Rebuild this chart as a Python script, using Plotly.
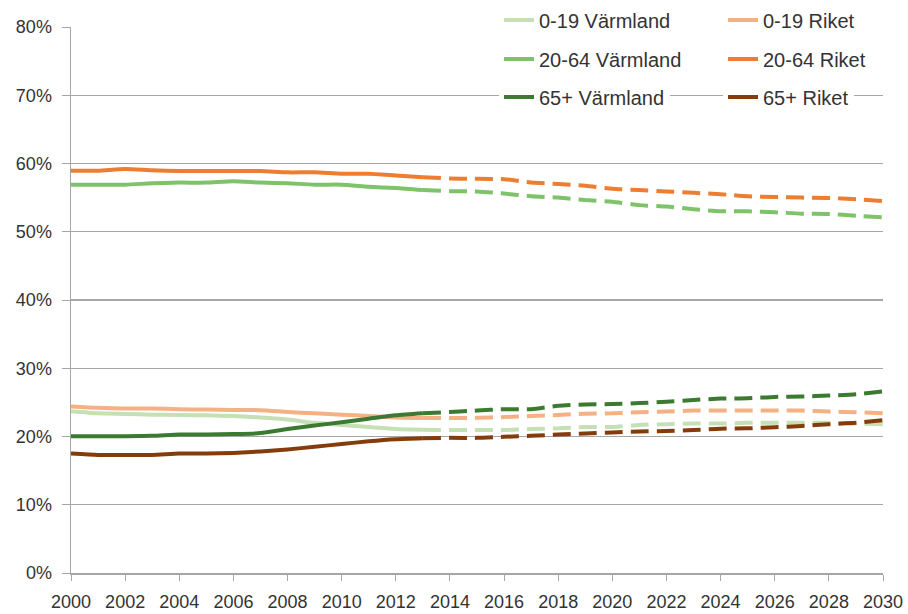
import plotly.graph_objects as go

years_hist = list(range(2000, 2014))
years_proj = list(range(2013, 2031))

# Shares of population (%), historical 2000-2013
v_0_19_hist = [23.7, 23.4, 23.3, 23.2, 23.15, 23.1, 23.0, 22.8, 22.5, 22.0, 21.7, 21.4, 21.1, 21.0]
r_0_19_hist = [24.4, 24.2, 24.1, 24.1, 24.0, 23.95, 23.9, 23.85, 23.6, 23.4, 23.2, 23.0, 22.8, 22.7]
v_20_64_hist = [56.9, 56.9, 56.9, 57.1, 57.2, 57.2, 57.4, 57.2, 57.1, 56.9, 56.9, 56.6, 56.4, 56.1]
r_20_64_hist = [58.95, 58.95, 59.2, 59.0, 58.9, 58.9, 58.9, 58.9, 58.7, 58.7, 58.5, 58.5, 58.25, 58.0]
v_65_hist = [20.05, 20.05, 20.05, 20.1, 20.3, 20.3, 20.35, 20.5, 21.1, 21.6, 22.1, 22.6, 23.1, 23.4]
r_65_hist = [17.5, 17.3, 17.3, 17.3, 17.5, 17.5, 17.6, 17.8, 18.1, 18.5, 18.9, 19.3, 19.6, 19.75]

# Projections 2013-2030
v_0_19_proj = [21.0, 20.95, 20.95, 20.95, 21.1, 21.2, 21.4, 21.4, 21.7, 21.8, 21.9, 21.9, 22.0, 22.0, 22.0, 22.0, 21.9, 21.8]
r_0_19_proj = [22.7, 22.7, 22.75, 22.85, 23.0, 23.15, 23.35, 23.4, 23.55, 23.65, 23.8, 23.8, 23.8, 23.8, 23.8, 23.65, 23.55, 23.4]
v_20_64_proj = [56.1, 55.95, 55.9, 55.6, 55.2, 55.0, 54.65, 54.4, 53.9, 53.7, 53.3, 53.0, 53.0, 52.85, 52.65, 52.6, 52.35, 52.1]
r_20_64_proj = [58.0, 57.8, 57.75, 57.7, 57.2, 57.0, 56.75, 56.3, 56.1, 55.9, 55.7, 55.5, 55.2, 55.1, 55.0, 54.95, 54.75, 54.5]
v_65_proj = [23.4, 23.6, 23.8, 24.0, 24.0, 24.5, 24.7, 24.75, 24.9, 25.1, 25.35, 25.55, 25.6, 25.8, 25.85, 26.0, 26.2, 26.6]
r_65_proj = [19.75, 19.8, 19.8, 19.95, 20.1, 20.3, 20.45, 20.6, 20.75, 20.8, 20.95, 21.15, 21.2, 21.35, 21.55, 21.8, 22.0, 22.4]

series_names = ["0-19 Värmland", "0-19 Riket", "20-64 Värmland", "20-64 Riket", "65+ Värmland", "65+ Riket"]
series_colors = ["#C5E0B4", "#F4B183", "#7EC26A", "#ED7D31", "#3C7A32", "#843C0C"]
series_hist = [v_0_19_hist, r_0_19_hist, v_20_64_hist, r_20_64_hist, v_65_hist, r_65_hist]
series_proj = [v_0_19_proj, r_0_19_proj, v_20_64_proj, r_20_64_proj, v_65_proj, r_65_proj]
legend_ids = ["legend", "legend2", "legend3", "legend4", "legend5", "legend6"]

fig = go.Figure()
for name, color, hist, leg in zip(series_names, series_colors, series_hist, legend_ids):
    fig.add_trace(go.Scatter(
        x=years_hist, y=[v / 100 for v in hist], mode="lines", name=name,
        line=dict(color=color, width=4, shape="spline", smoothing=0.6),
        legend=leg, showlegend=True,
    ))
for name, color, proj, leg in zip(series_names, series_colors, series_proj, legend_ids):
    fig.add_trace(go.Scatter(
        x=years_proj, y=[v / 100 for v in proj], mode="lines", name=name,
        line=dict(color=color, width=4, dash="18px,8px", shape="spline", smoothing=0.6),
        legend=leg, showlegend=False,
    ))

font_family = "Liberation Sans, Arial, sans-serif"
text_color = "#333333"

W, H = 908, 614
col_x = [499, 723]
row_y = [20, 59, 97]

legends = {}
for i, leg in enumerate(legend_ids):
    cx = col_x[i % 2]
    cy = row_y[i // 2]
    legends[leg] = dict(
        orientation="v", xref="container", yref="container",
        x=cx / W, y=1 - cy / H, xanchor="left", yanchor="middle",
        bgcolor="white", borderwidth=0,
        font=dict(family=font_family, size=20, color=text_color),
        itemclick=False, itemdoubleclick=False,
    )

fig.update_layout(
    width=W, height=H,
    margin=dict(l=71, r=25, t=27, b=41, autoexpand=False),
    paper_bgcolor="white", plot_bgcolor="white",
    font=dict(family=font_family, size=18, color=text_color),
    xaxis=dict(
        range=[2000, 2030], dtick=2, tick0=2000, showgrid=False,
        showline=True, linecolor="#A6A6A6", linewidth=1.5,
        ticks="outside", ticklen=6, tickcolor="#A6A6A6", tickwidth=1,
        tickfont=dict(size=18, color=text_color), zeroline=False,
        ticklabelstandoff=6,
    ),
    yaxis=dict(
        range=[0, 0.8], dtick=0.1, tickformat=".0%", showgrid=True,
        gridcolor="#A6A6A6", gridwidth=1.2,
        showline=True, linecolor="#A6A6A6", linewidth=1.5,
        ticks="outside", ticklen=8, tickcolor="#A6A6A6",
        tickfont=dict(size=18, color=text_color), zeroline=False,
        ticklabelstandoff=6,
    ),
    showlegend=True,
    hovermode=False,
    **legends,
)

fig.write_html(
    "out.html",
    config={"displayModeBar": False, "staticPlot": True},
    post_script="document.body.style.margin='0';document.body.style.overflow='hidden';",
)
